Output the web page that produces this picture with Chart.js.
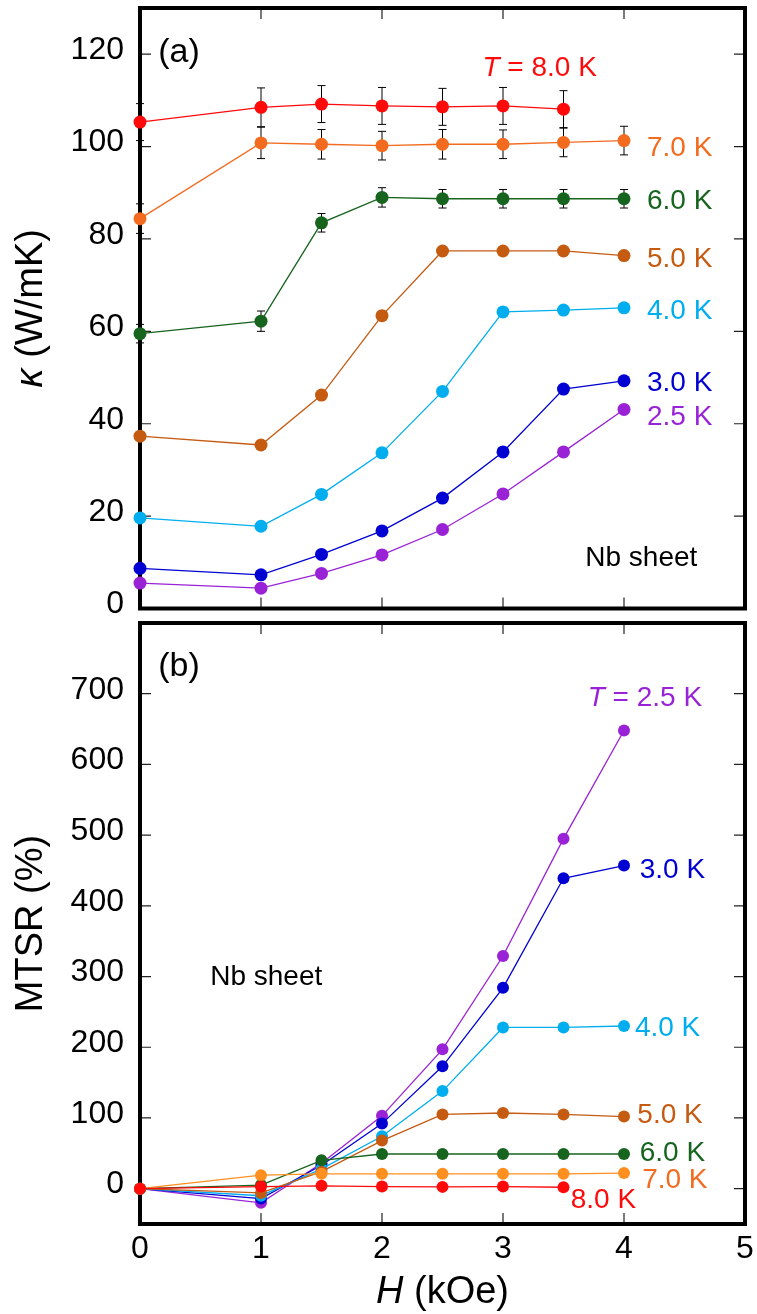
<!DOCTYPE html>
<html>
<head>
<meta charset="utf-8">
<script src="https://cdn.jsdelivr.net/npm/chart.js@4"></script>
<style>
body { margin: 0; background: #fff; }
#wrap { position: relative; width: 757px; height: 1314px; }
#chartA { position: absolute; left: 0; top: 0; }
#chartB { position: absolute; left: 0; top: 615px; }
</style>
</head>
<body>
<div id="wrap">
<canvas id="chartA" width="757" height="615"></canvas>
<canvas id="chartB" width="757" height="699"></canvas>
</div>
<script>
const FONT = '"Liberation Sans", Arial, sans-serif';

// field values (kOe)
const fields = [0, 1, 1.5, 2, 2.5, 3, 3.5, 4];

// thermal conductivity, W/mK
const kappa25 = [5.5, 4.4, 7.6, 11.6, 17.1, 24.8, 33.9, 43.1];
const kappa30 = [8.7, 7.3, 11.7, 16.8, 23.9, 33.9, 47.5, 49.3];
const kappa40 = [19.6, 17.8, 24.7, 33.7, 47.0, 64.2, 64.6, 65.1];
const kappa50 = [37.3, 35.4, 46.2, 63.4, 77.4, 77.4, 77.4, 76.4];
const kappa60 = [59.5, 62.2, 83.5, 89.0, 88.7, 88.7, 88.7, 88.7];
const kappa70 = [84.4, 100.8, 100.5, 100.2, 100.5, 100.5, 100.9, 101.3];
const kappa80 = [105.3, 108.5, 109.2, 108.8, 108.6, 108.8, 108.1];

// error bars (+/-)
const err50 = [0.5, 0.5, 0.5, 0.5, 0.5, 0.5, 0.5, 0.5];
const err60 = [2.0, 2.2, 2.0, 2.1, 2.0, 2.0, 2.0, 2.0];
const err70 = [3.2, 3.4, 3.2, 3.1, 3.2, 3.1, 3.1, 3.1];
const err80 = [4.0, 4.2, 4.0, 4.0, 4.0, 4.0, 4.0];

// MTSR, %
const mtsr25 = [0, -20, 36, 103, 197, 329, 495, 648];
const mtsr30 = [0, -14, 33, 92, 173, 284, 439, 457];
const mtsr40 = [0, -10, 28, 74, 138, 228, 228, 230];
const mtsr50 = [0, -6, 24, 68, 105, 107, 105, 102];
const mtsr60 = [0, 5, 40, 49, 49, 49, 49, 49];
const mtsr70 = [0, 19, 21, 21, 21, 21, 21, 22];
const mtsr80 = [0, 3, 4, 3, 2.5, 3, 2];

const hTicks = [0, 1, 2, 3, 4, 5];
const kappaTicks = [0, 20, 40, 60, 80, 100, 120];
const mtsrTicks = [0, 100, 200, 300, 400, 500, 600, 700];

const c25 = '#9a22d6', c30 = '#0000d2', c40 = '#00aeef', c50 = '#c55a11',
      c60 = '#17641f', c70 = '#f26b1f', c70b = '#ff9020', c80 = '#ff0a0a';

function pts(ys) {
    return ys.map((y, i) => ({ x: fields[i], y: y }));
}

function series(label, ys, color, r, errs) {
    return {
        label: label,
        data: pts(ys),
        borderColor: color,
        backgroundColor: color,
        borderWidth: 1.3,
        pointRadius: r,
        pointHoverRadius: r,
        pointBorderWidth: 0,
        tension: 0,
        clip: false,
        errs: errs || null
    };
}

function setTicks(list) {
    return scale => { scale.ticks = list.map(v => ({ value: v })); };
}

function fitY(s) {
    s.width = 140;
    s.paddingTop = 0;
    s.paddingBottom = 0;
}

function drawParts(ctx, x, y, parts, size, color) {
    ctx.fillStyle = color;
    ctx.textAlign = 'left';
    ctx.textBaseline = 'alphabetic';
    let cx = x;
    parts.forEach(p => {
        ctx.font = (p[1] ? 'italic ' : '') + size + 'px ' + FONT;
        ctx.fillText(p[0], cx, y + size * 0.358);
        cx += ctx.measureText(p[0]).width;
    });
}

function partsWidth(ctx, parts, size) {
    let w = 0;
    parts.forEach(p => {
        ctx.font = (p[1] ? 'italic ' : '') + size + 'px ' + FONT;
        w += ctx.measureText(p[0]).width;
    });
    return w;
}

const framePlugin = {
    id: 'frame',
    beforeDatasetsDraw(chart) {
        const ctx = chart.ctx, a = chart.chartArea;
        const sx = chart.scales.x, sy = chart.scales.y;
        ctx.save();
        // error bars
        ctx.strokeStyle = '#000';
        ctx.lineWidth = 1;
        chart.data.datasets.forEach(ds => {
            if (!ds.errs) return;
            ds.data.forEach((p, i) => {
                const e = ds.errs[i];
                const px = sx.getPixelForValue(p.x);
                const y1 = sy.getPixelForValue(p.y - e);
                const y2 = sy.getPixelForValue(p.y + e);
                ctx.beginPath();
                ctx.moveTo(px, y1); ctx.lineTo(px, y2);
                ctx.moveTo(px - 4, y1); ctx.lineTo(px + 4, y1);
                ctx.moveTo(px - 4, y2); ctx.lineTo(px + 4, y2);
                ctx.stroke();
            });
        });
        // inward ticks on every side
        const tl = 11;
        ctx.strokeStyle = '#222';
        ctx.lineWidth = 1.2;
        ctx.beginPath();
        sx.ticks.forEach(t => {
            const px = sx.getPixelForValue(t.value);
            ctx.moveTo(px, a.top); ctx.lineTo(px, a.top + tl);
            ctx.moveTo(px, a.bottom); ctx.lineTo(px, a.bottom - tl);
        });
        sy.ticks.forEach(t => {
            const py = sy.getPixelForValue(t.value);
            ctx.moveTo(a.left, py); ctx.lineTo(a.left + tl, py);
            ctx.moveTo(a.right, py); ctx.lineTo(a.right - tl, py);
        });
        ctx.stroke();
        // frame
        ctx.strokeStyle = '#000';
        ctx.lineWidth = 4;
        ctx.strokeRect(a.left, a.top, a.right - a.left, a.bottom - a.top);
        ctx.restore();
    },
    afterDraw(chart) {
        const opts = chart.options.plugins.panelText;
        if (!opts) return;
        const ctx = chart.ctx, a = chart.chartArea;
        const sx = chart.scales.x, sy = chart.scales.y;
        ctx.save();
        opts.items.forEach(it => {
            drawParts(ctx, sx.getPixelForValue(it.x), sy.getPixelForValue(it.y), it.parts, it.size, it.color);
        });
        // y axis title (rotated)
        const yt = opts.yTitle;
        ctx.save();
        ctx.translate(42, (a.top + a.bottom) / 2);
        ctx.rotate(-Math.PI / 2);
        const w = partsWidth(ctx, yt, 38);
        drawParts(ctx, -w / 2, -0.358 * 38, yt, 38, '#000');
        ctx.restore();
        // x axis title
        if (opts.xTitle) {
            const xt = opts.xTitle;
            const w2 = partsWidth(ctx, xt, 38);
            drawParts(ctx, (a.left + a.right) / 2 - w2 / 2, a.bottom + 79 - 0.358 * 38, xt, 38, '#000');
        }
        ctx.restore();
    }
};

const tickFont = { family: FONT, size: 32 };

new Chart(document.getElementById('chartA'), {
    type: 'line',
    data: {
        datasets: [
            series('8.0 K', kappa80, c80, 6.5, err80),
            series('7.0 K', kappa70, c70, 6.5, err70),
            series('6.0 K', kappa60, c60, 6.5, err60),
            series('5.0 K', kappa50, c50, 6.5, err50),
            series('4.0 K', kappa40, c40, 6.5),
            series('3.0 K', kappa30, c30, 6.5),
            series('2.5 K', kappa25, c25, 6.5)
        ]
    },
    options: {
        responsive: false,
        animation: false,
        layout: { padding: { top: 8, right: 12, left: 0, bottom: 0 } },
        plugins: {
            legend: { display: false },
            tooltip: { enabled: false },
            panelText: {
                yTitle: [['κ', true], [' (W/mK)', false]],
                xTitle: null,
                items: [
                    { x: 0.15, y: 121, parts: [['(a)']], size: 34, color: '#000' },
                    { x: 2.83, y: 117.4, parts: [['T', true], [' = 8.0 K']], size: 28, color: c80 },
                    { x: 4.19, y: 100.1, parts: [['7.0 K']], size: 28, color: c70 },
                    { x: 4.19, y: 88.7, parts: [['6.0 K']], size: 28, color: c60 },
                    { x: 4.19, y: 76.2, parts: [['5.0 K']], size: 28, color: c50 },
                    { x: 4.19, y: 64.9, parts: [['4.0 K']], size: 28, color: c40 },
                    { x: 4.19, y: 49.2, parts: [['3.0 K']], size: 28, color: c30 },
                    { x: 4.19, y: 41.9, parts: [['2.5 K']], size: 28, color: c25 },
                    { x: 3.68, y: 11.4, parts: [['Nb sheet']], size: 28, color: '#000' }
                ]
            }
        },
        scales: {
            x: {
                type: 'linear', min: 0, max: 5,
                grid: { display: false, drawTicks: false },
                border: { display: false },
                ticks: { display: false },
                afterBuildTicks: setTicks(hTicks),
                afterFit: s => { s.height = 4; s.paddingLeft = 0; s.paddingRight = 0; }
            },
            y: {
                type: 'linear', min: 0, max: 130,
                grid: { display: false, drawTicks: false },
                border: { display: false },
                ticks: { font: tickFont, color: '#000', padding: 16, labelOffset: -4 },
                afterBuildTicks: setTicks(kappaTicks),
                afterFit: fitY
            }
        }
    },
    plugins: [framePlugin]
});

new Chart(document.getElementById('chartB'), {
    type: 'line',
    data: {
        datasets: [
            series('8.0 K', mtsr80, c80, 6),
            series('7.0 K', mtsr70, c70b, 6),
            series('6.0 K', mtsr60, c60, 6),
            series('5.0 K', mtsr50, c50, 6),
            series('4.0 K', mtsr40, c40, 6),
            series('3.0 K', mtsr30, c30, 6),
            series('2.5 K', mtsr25, c25, 6)
        ]
    },
    options: {
        responsive: false,
        animation: false,
        layout: { padding: { top: 8, right: 12, left: 0, bottom: 0 } },
        plugins: {
            legend: { display: false },
            tooltip: { enabled: false },
            panelText: {
                yTitle: [['MTSR (%)', false]],
                xTitle: [['H', true], [' (kOe)', false]],
                items: [
                    { x: 0.15, y: 742, parts: [['(b)']], size: 34, color: '#000' },
                    { x: 3.70, y: 697, parts: [['T', true], [' = 2.5 K']], size: 28, color: c25 },
                    { x: 4.13, y: 454, parts: [['3.0 K']], size: 28, color: c30 },
                    { x: 4.09, y: 230, parts: [['4.0 K']], size: 28, color: c40 },
                    { x: 4.11, y: 107, parts: [['5.0 K']], size: 28, color: c50 },
                    { x: 4.13, y: 53.6, parts: [['6.0 K']], size: 28, color: c60 },
                    { x: 4.15, y: 15.5, parts: [['7.0 K']], size: 28, color: c70 },
                    { x: 3.56, y: -12.7, parts: [['8.0 K']], size: 28, color: c80 },
                    { x: 0.58, y: 302, parts: [['Nb sheet']], size: 28, color: '#000' }
                ]
            }
        },
        scales: {
            x: {
                type: 'linear', min: 0, max: 5,
                grid: { display: false, drawTicks: false },
                border: { display: false },
                ticks: { font: tickFont, color: '#000', padding: 6 },
                afterBuildTicks: setTicks(hTicks),
                afterFit: s => { s.height = 90; s.paddingLeft = 0; s.paddingRight = 0; }
            },
            y: {
                type: 'linear', min: -50, max: 800,
                grid: { display: false, drawTicks: false },
                border: { display: false },
                ticks: { font: tickFont, color: '#000', padding: 16, labelOffset: -4 },
                afterBuildTicks: setTicks(mtsrTicks),
                afterFit: fitY
            }
        }
    },
    plugins: [framePlugin]
});
</script>
</body>
</html>
